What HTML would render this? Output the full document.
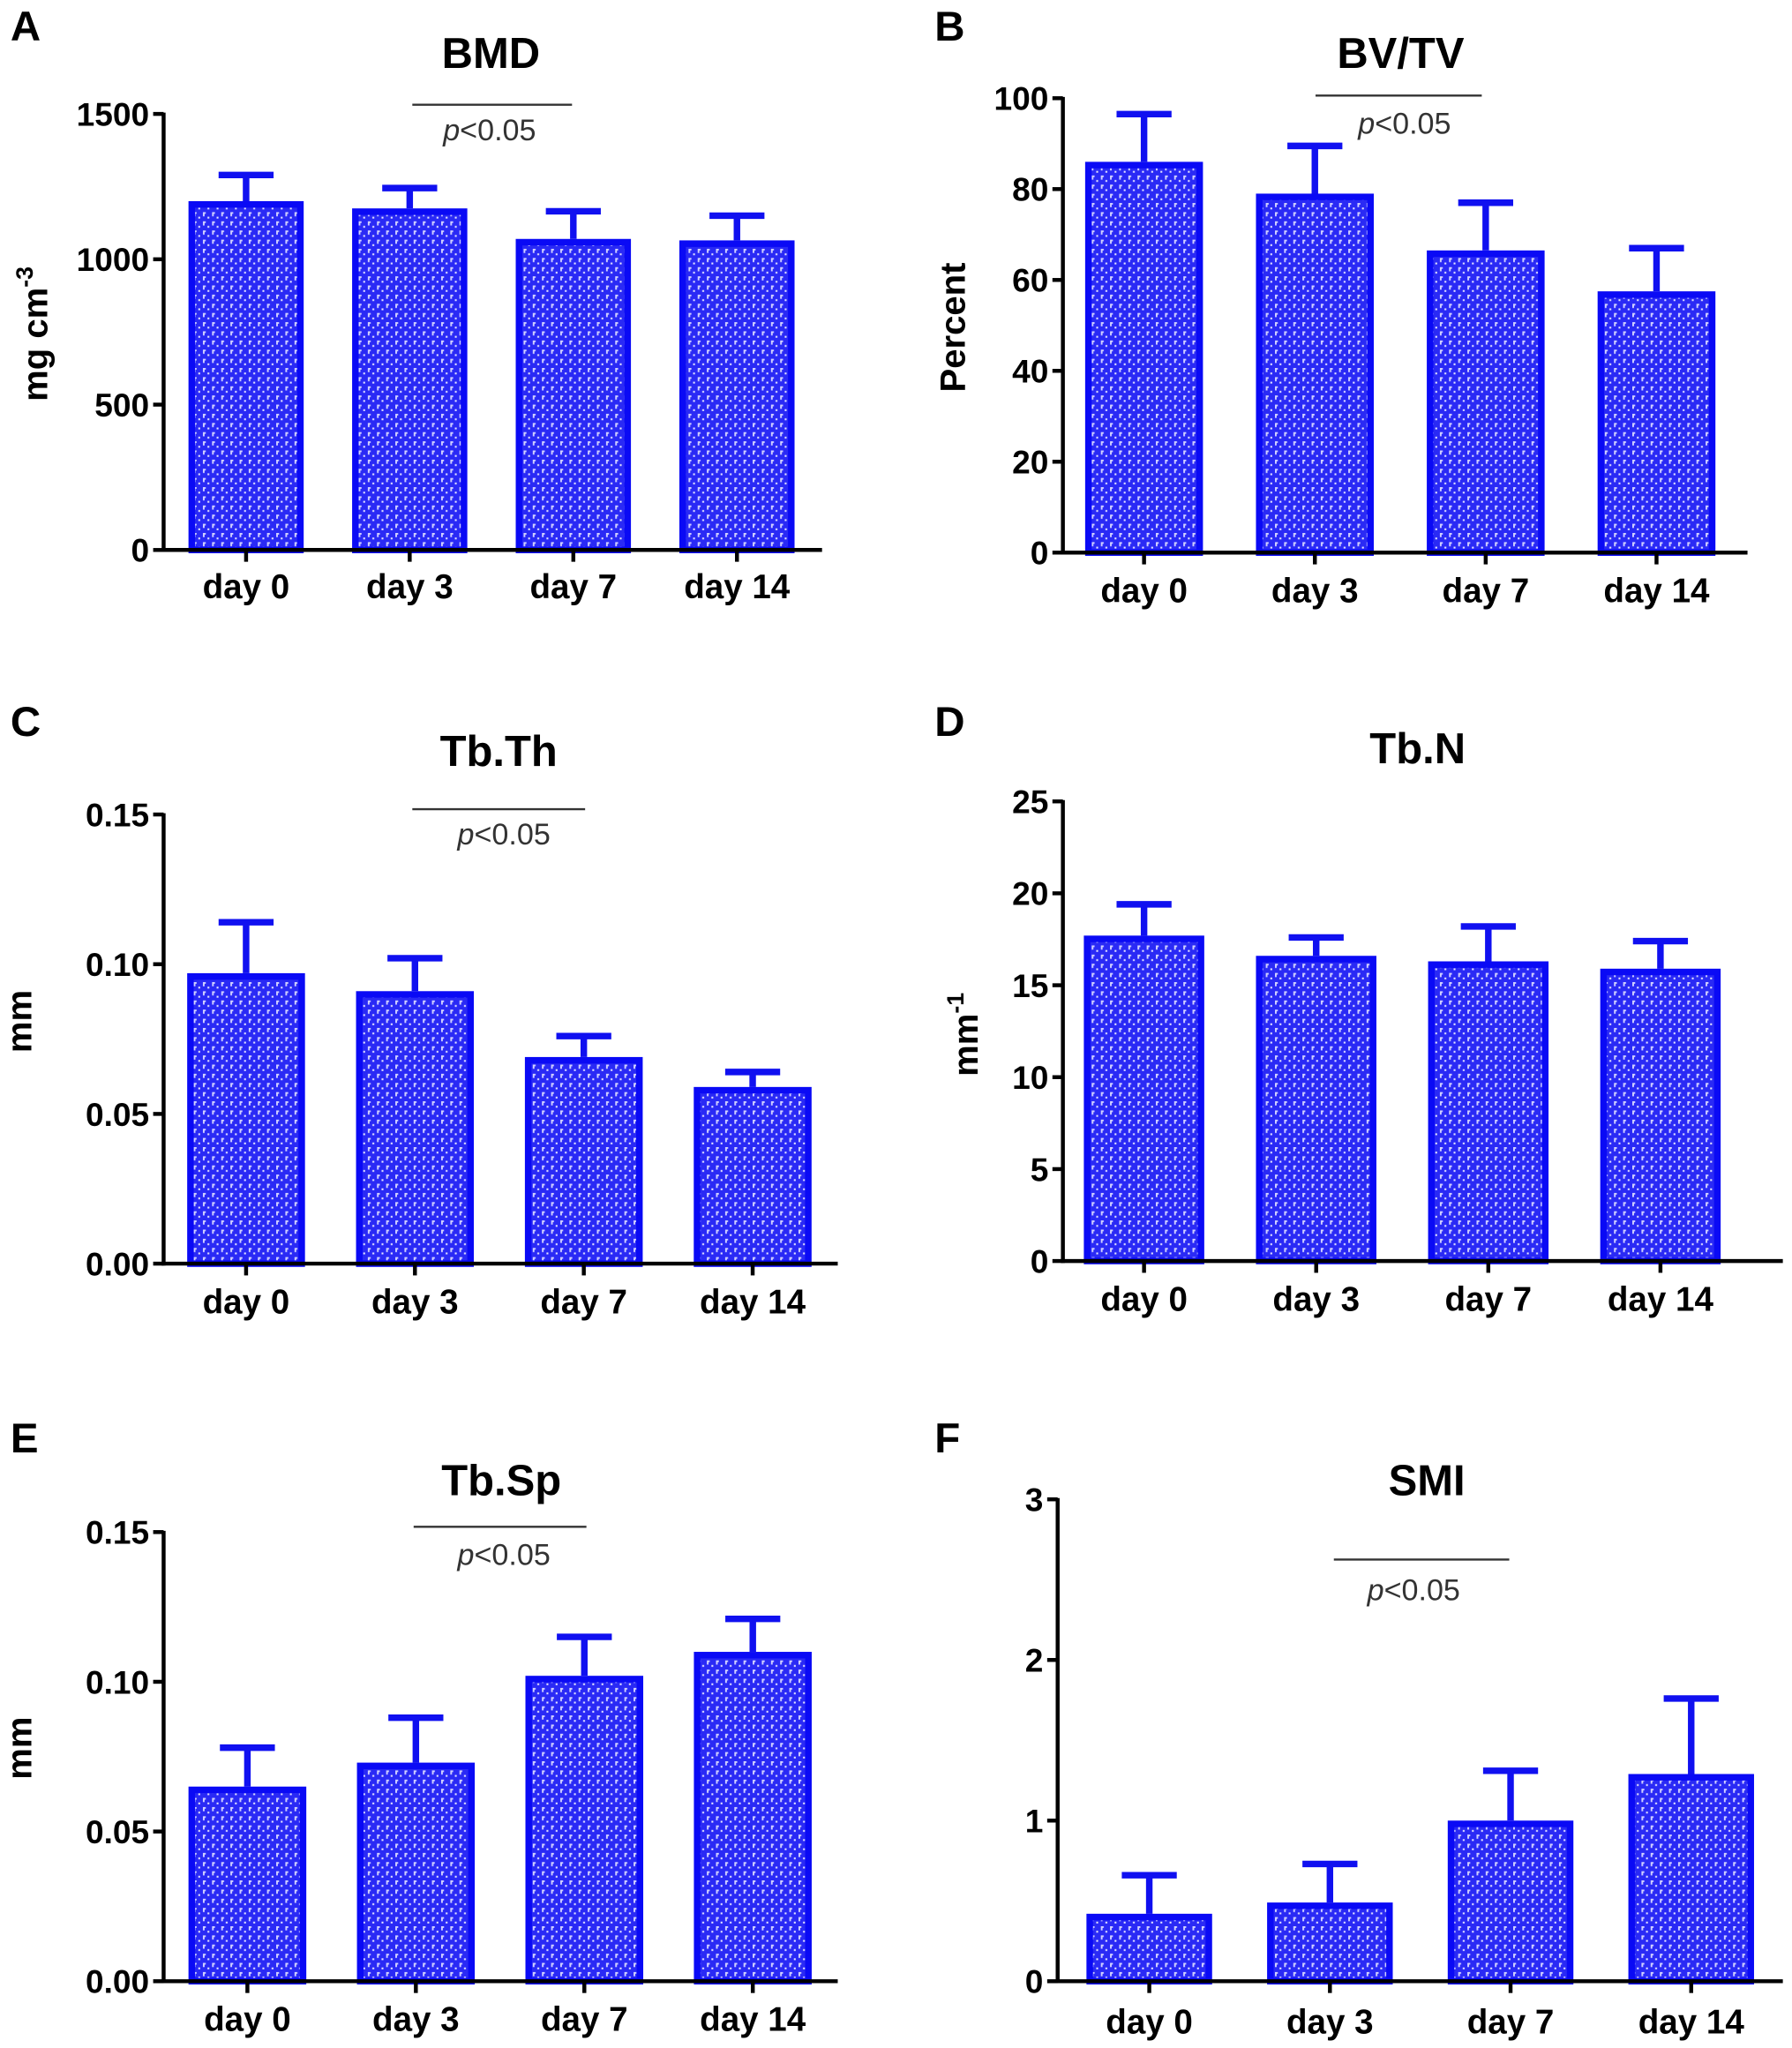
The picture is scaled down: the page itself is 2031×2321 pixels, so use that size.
<!DOCTYPE html>
<html><head><meta charset="utf-8"><style>
html,body{margin:0;padding:0;background:#fff;}
svg{display:block;}
text{font-family:"Liberation Sans",Arial,sans-serif;}
</style></head><body>
<svg id="fig" width="2031" height="2321" viewBox="0 0 1369 1564" preserveAspectRatio="none" xmlns="http://www.w3.org/2000/svg">
<defs>
<pattern id="hatch" patternUnits="userSpaceOnUse" width="7" height="7">
<rect width="7" height="7" fill="#2a2af5"/>
<rect x="1" y="1" width="2.2" height="1.3" fill="#d0d0ff"/>
<rect x="1" y="1" width="1.3" height="3.2" fill="#d0d0ff"/>
<rect x="4.5" y="4.5" width="1.4" height="1.4" fill="#e6e6ff"/>
</pattern>
</defs>
</svg>
<script>
const categories = ["day 0","day 3","day 7","day 14"];
const bmdMeans = [1200,1175,1070,1065];
const bmdErr = [1290,1245,1165,1150];
const bmdTicks = ["0","500","1000","1500"];
const bvtvMeans = [86,79,66.5,57.5];
const bvtvErr = [96.5,89.5,77,67];
const bvtvTicks = ["0","20","40","60","80","100"];
const tbthMeans = [0.097,0.091,0.069,0.059];
const tbthErr = [0.114,0.102,0.076,0.064];
const tbthTicks = ["0.00","0.05","0.10","0.15"];
const tbnMeans = [17.7,16.6,16.3,15.9];
const tbnErr = [19.4,17.6,18.2,17.4];
const tbnTicks = ["0","5","10","15","20","25"];
const tbspMeans = [0.065,0.073,0.102,0.110];
const tbspErr = [0.078,0.088,0.115,0.121];
const tbspTicks = ["0.00","0.05","0.10","0.15"];
const smiMeans = [0.42,0.49,1.0,1.29];
const smiErr = [0.66,0.73,1.31,1.76];
const smiTicks = ["0","1","2","3"];

const svg = document.getElementById('fig');
const NS = 'http://www.w3.org/2000/svg';
function mk(tag, attrs, parent){
  const e = document.createElementNS(NS, tag);
  for (const k in attrs) e.setAttribute(k, attrs[k]);
  (parent||svg).appendChild(e); return e;
}
function txt(s, attrs, parent){ const e = mk('text', attrs, parent); e.textContent = s; return e; }

const panels = [
 {id:'bmd',letter:'A',lx:8,ly:31,title:'BMD',tx:375,ty:52,ax:125,x1:628,yTop:87,y0:420,max:1500,centers0:188,step:125,bw:88,means:bmdMeans,err:bmdErr,ticks:bmdTicks,catY:457,ylab:'mg cm',sup:'-3',ylx:36,yly:255,sig:[315,437,80,374,107]},
 {id:'bvtv',letter:'B',lx:714,ly:31,title:'BV/TV',tx:1070,ty:52,ax:812,x1:1335,yTop:75,y0:422,max:100,centers0:874,step:130.5,bw:90,means:bvtvMeans,err:bvtvErr,ticks:bvtvTicks,catY:460,ylab:'Percent',sup:'',ylx:737,yly:250,sig:[1005,1132,73,1073,102]},
 {id:'tbth',letter:'C',lx:8,ly:562,title:'Tb.Th',tx:381,ty:585,ax:125,x1:640,yTop:622,y0:965,max:0.15,centers0:188,step:129,bw:90,means:tbthMeans,err:tbthErr,ticks:tbthTicks,catY:1003,ylab:'mm',sup:'',ylx:24,yly:780,sig:[315,447,618,385,645]},
 {id:'tbn',letter:'D',lx:714,ly:562,title:'Tb.N',tx:1083,ty:583,ax:812,x1:1362,yTop:612,y0:963,max:25,centers0:874,step:131.5,bw:92,means:tbnMeans,err:tbnErr,ticks:tbnTicks,catY:1001,ylab:'mm',sup:'-1',ylx:747,yly:790,sig:null},
 {id:'tbsp',letter:'E',lx:8,ly:1109,title:'Tb.Sp',tx:383,ty:1142,ax:125,x1:640,yTop:1170,y0:1513,max:0.15,centers0:189,step:128.7,bw:90,means:tbspMeans,err:tbspErr,ticks:tbspTicks,catY:1551,ylab:'mm',sup:'',ylx:24,yly:1335,sig:[316,448,1166,385,1195]},
 {id:'smi',letter:'F',lx:714,ly:1109,title:'SMI',tx:1090,ty:1142,ax:808,x1:1362,yTop:1145,y0:1513,max:3,centers0:878,step:138,bw:96,means:smiMeans,err:smiErr,ticks:smiTicks,catY:1553,ylab:'',sup:'',ylx:0,yly:0,sig:[1019,1153,1191,1080,1222]}
];

panels.forEach(p=>{
  const g = mk('g',{});
  
  
  const yScale = v => p.y0 - (v/p.max)*(p.y0-p.yTop);
  const xScale = i => p.centers0 + i*p.step;
  const L = txt(p.letter,{x:p.lx,y:p.ly,'font-size':32,'font-weight':'bold'},g);
  
  
  const T = txt(p.title,{x:p.tx,y:p.ty,'font-size':33,'font-weight':'bold','text-anchor':'middle'},g);
  
  
  p.means.forEach((m,i)=>{
    const cx = xScale(i), yt = yScale(m), ye = yScale(p.err[i]);
    const eb = mk('path',{d:`M${cx} ${yt} V${ye} M${cx-21} ${ye} H${cx+21}`,stroke:'#1010f0','stroke-width':5,fill:'none'},g);
    
    
    const r = mk('rect',{x:cx-p.bw/2+2.5,y:yt+2.5,width:p.bw-5,height:p.y0-yt-2.5,fill:'url(#hatch)',stroke:'#0a0af5','stroke-width':5},g);
    
    
    const c = txt(categories[i],{x:cx,y:p.catY,'font-size':26,'font-weight':'bold','text-anchor':'middle'},g);
    
    
    mk('line',{x1:cx,x2:cx,y1:p.y0,y2:p.y0+9,stroke:'#000','stroke-width':3},g);
  });
  const ya = mk('line',{x1:p.ax,x2:p.ax,y1:p.yTop-1,y2:p.y0+1.5,stroke:'#000','stroke-width':3},g);
  
  
  const xa = mk('line',{x1:p.ax-1.5,x2:p.x1,y1:p.y0,y2:p.y0,stroke:'#000','stroke-width':3},g);
  
  
  const n = p.ticks.length-1;
  p.ticks.forEach((t,k)=>{
    const y = yScale(p.max*k/n);
    mk('line',{x1:p.ax-8,x2:p.ax,y1:y,y2:y,stroke:'#000','stroke-width':3},g);
    const tl = txt(t,{x:p.ax-11,y:y+9,'font-size':25,'font-weight':'bold','text-anchor':'end'},g);
    
    
  });
  if (p.ylab){
    const yl = txt(p.ylab,{x:0,y:0,'font-size':27,'font-weight':'bold','text-anchor':'middle',transform:`translate(${p.ylx},${p.yly}) rotate(-90)`},g);
    if (p.sup){ const s = mk('tspan',{'font-size':18,dy:-11},yl); s.textContent = p.sup; }
    
    
  }
  if (p.sig){
    const [a,b,y,tx,ty] = p.sig;
    const sl = mk('line',{x1:a,x2:b,y1:y,y2:y,stroke:'#333','stroke-width':1.6},g);
    
    
    const st = txt('',{x:tx,y:ty,'font-size':23,'text-anchor':'middle',fill:'#333'},g);
    const it = mk('tspan',{'font-style':'italic'},st); it.textContent='p';
    const rest = mk('tspan',{},st); rest.textContent='<0.05';
    
    
  }
});
</script>
</body></html>
